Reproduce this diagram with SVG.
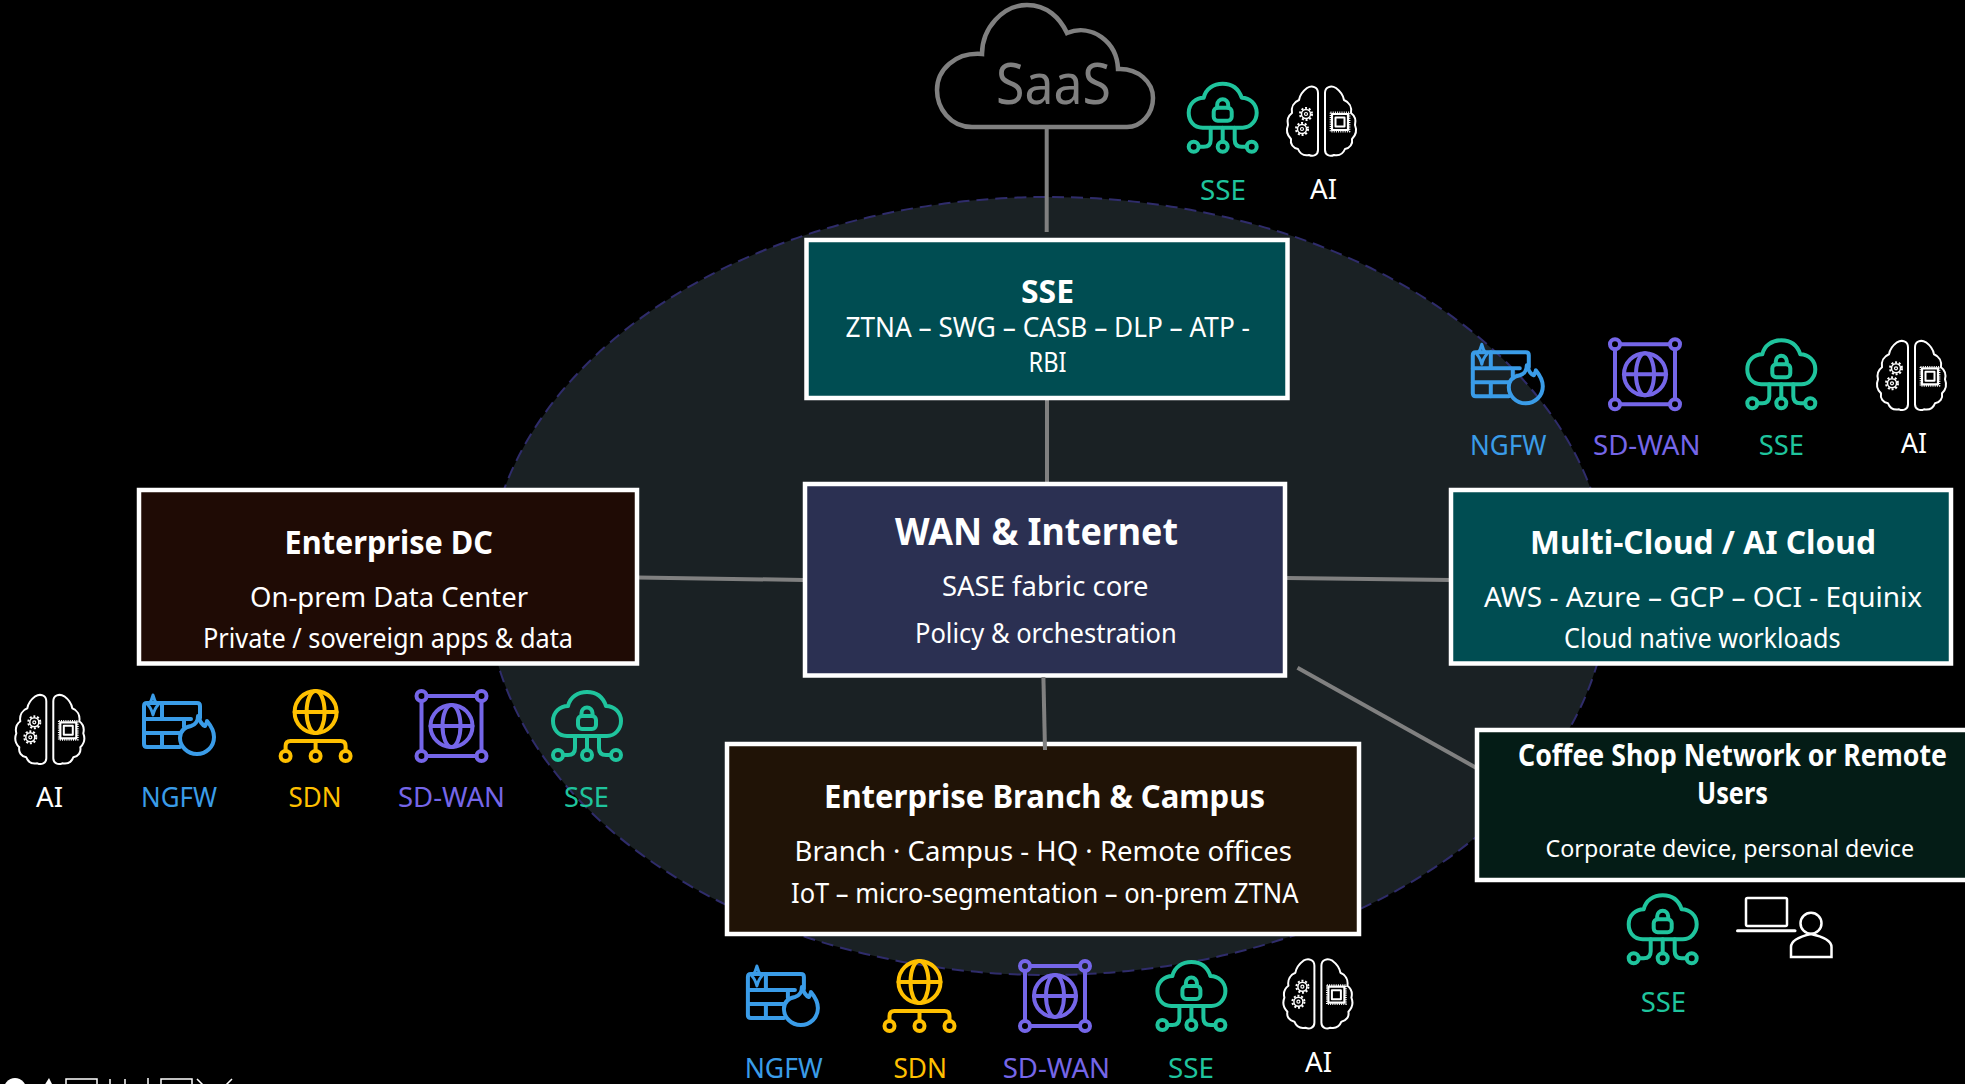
<svg xmlns="http://www.w3.org/2000/svg" width="1965" height="1084" viewBox="0 0 1965 1084">
<style>
text{font-family:"Noto Sans","Open Sans","Liberation Sans",sans-serif;fill:#fff}
.t{font-weight:700;font-size:33px}
.b{font-size:28px}
.box{stroke:#fff;stroke-width:4.5}
.conn{stroke:#808080;stroke-width:4;fill:none}
.lab{font-size:28px}
.g{fill:#1fc49d}.bl{fill:#3a9ce8}.p{fill:#7566e8}.y{fill:#ffc000}
.ic{fill:none;stroke-linecap:round;stroke-linejoin:round}
</style>
<defs>
<g id="sse" class="ic" stroke="#1fc49d" stroke-width="4">
<path d="M16 46C7 46 2 39 2 31C2 22 9 16 17 16C19 7 27 2 36 2C45 2 52 7 55 16C63 16 70 22 70 31C70 39 64 46 56 46Z"/>
<rect x="27" y="26" width="18" height="13" rx="4"/>
<path d="M30.500 26v-3a5.500 5.500 0 0 1 11 0v3"/>
<path d="M36 46V60M24 46V58Q24 65 17 65H12M48 46V58Q48 65 55 65H60"/>
<circle cx="7" cy="65" r="5"/><circle cx="36" cy="65" r="5"/><circle cx="65" cy="65" r="5"/>
</g>
<g id="sdwan" class="ic" stroke="#7566e8" stroke-width="4">
<path d="M11 6H61M11 66H61M6 11V61M66 11V61"/>
<circle cx="6" cy="6" r="5"/><circle cx="66" cy="6" r="5"/><circle cx="6" cy="66" r="5"/><circle cx="66" cy="66" r="5"/>
<circle cx="36" cy="36" r="21"/><ellipse cx="36" cy="36" rx="9" ry="21"/><path d="M15 36H57"/>
</g>
<g id="sdn" class="ic" stroke="#ffc000" stroke-width="4">
<circle cx="36" cy="22" r="21"/><ellipse cx="36" cy="22" rx="9" ry="21"/><path d="M15 22H57"/>
<path d="M6 61V56Q6 51 11 51H61Q66 51 66 56V61M36 51V61"/>
<circle cx="6" cy="66" r="5"/><circle cx="36" cy="66" r="5"/><circle cx="66" cy="66" r="5"/>
</g>
<g id="ngfw" class="ic" stroke="#3a9ce8" stroke-width="4">
<path d="M37 53H4Q1 53 1 50V12Q1 9 4 9H54Q57 9 57 12V24"/>
<path d="M1 25H48M1 39H37M19 39V53M19 9V25M41 25V33"/>
<path d="M10 1C11 6 13 9 15 11C13 13 11 17 10 21C9 17 7 13 5 11C7 9 9 6 10 1Z" stroke-width="3"/>
<path d="M55 22C57 28 59 31 62 32C63 30 64 29 64 27C69 33 71 38 71 43C71 53 63 60 54 60C44 60 37 52 37 44C37 36 43 33 48 32C52 31 55 27 55 22Z"/>
</g>
<g id="ai" class="ic" stroke="#fff" stroke-width="2">
<path d="M32 8V65C32 70 27 72 23 70C18 71 14 69 12 64C7 63 4 59 5 54C1 50 0 45 2 40C1 36 2 31 6 28C5 22 8 17 13 15C14 9 17 6 21 3C26 0 32 2 32 8Z"/>
<path d="M39 8V65C39 70 44 72 48 70C53 71 57 69 59 64C64 63 67 59 66 54C70 50 71 45 69 40C70 36 69 31 65 28C66 22 63 17 58 15C57 9 54 6 50 3C45 0 39 2 39 8Z"/>
<circle cx="20" cy="29" r="4.500" stroke-width="1.500"/><circle cx="20" cy="29" r="6" stroke-dasharray="2 1.800" stroke-linecap="butt" stroke-width="2"/><circle cx="20" cy="29" r="1.500" stroke-width="1.200"/>
<circle cx="16" cy="44" r="4.500" stroke-width="1.500"/><circle cx="16" cy="44" r="6" stroke-dasharray="2 1.800" stroke-linecap="butt" stroke-width="2"/><circle cx="16" cy="44" r="1.500" stroke-width="1.200"/>
<rect x="46" y="29" width="16" height="16" stroke-width="2.200"/><rect x="49.500" y="32.500" width="9" height="9" stroke-width="2"/>
<rect x="44.500" y="27.500" width="19" height="19" stroke-dasharray="1 1.200" stroke-linecap="butt" stroke-width="1.800"/>
</g>
</defs>
<rect id="background" width="1965" height="1084" fill="#000"/>
<ellipse id="fabric" cx="1047.500" cy="586" rx="561" ry="389" fill="#1a2124" stroke="#2f2c6b" stroke-width="2" stroke-dasharray="12 7"/>
<g id="logo-clipped" fill="none" stroke="#fff" stroke-width="1.500">
<ellipse cx="15" cy="1092" rx="12" ry="14" fill="#fff" stroke="none"/>
<path d="M44 1086L49 1078L53 1086Z" fill="#fff" stroke="none"/>
<path d="M66 1086V1079H97V1086M110 1086V1079M125 1086V1079M148 1078V1086M161 1086V1079H192V1086M197 1079L204 1086M232 1079L225 1086"/>
</g>
<g id="connectors">
<path class="conn" d="M1046.700 128V232"/>
<path class="conn" d="M1047 400V484"/>
<path class="conn" d="M638 577.500L804 580"/>
<path class="conn" d="M1287 578L1450 580"/>
<path class="conn" d="M1297.500 667.700L1476 767.700"/>
</g>
<g id="saas">
<path d="M972 127C950 127 937 108 937 90C937 70 955 52 982 54C982 28 1003 5 1027 5C1047 5 1060 18 1067 33C1092 23 1117 42 1118 69C1138 68 1153 82 1153 98C1153 114 1141 127 1127 127Z" fill="none" stroke="#808080" stroke-width="4.500"/>
<text x="996" y="104" font-size="56" textLength="115" lengthAdjust="spacingAndGlyphs" style="fill:#808080">SaaS</text>
</g>
<g id="node-sse-box">
<rect class="box" x="806.500" y="240" width="481" height="158" fill="#004d52"/>
<text class="t" x="1021" y="303.300" textLength="53" lengthAdjust="spacingAndGlyphs">SSE</text>
<text class="b" x="845.500" y="337.300" textLength="404.500" lengthAdjust="spacingAndGlyphs">ZTNA – SWG – CASB – DLP – ATP -</text>
<text class="b" x="1028.600" y="371.700" textLength="38" lengthAdjust="spacingAndGlyphs">RBI</text>
</g>
<g id="node-wan">
<rect class="box" x="805" y="484" width="480" height="191.500" fill="#2b3052"/>
<text x="895" y="545" font-size="38" font-weight="700" textLength="283" lengthAdjust="spacingAndGlyphs">WAN &amp; Internet</text>
<text class="b" x="942" y="595.700" textLength="206.500" lengthAdjust="spacingAndGlyphs">SASE fabric core</text>
<text class="b" x="915" y="643.300" textLength="261.700" lengthAdjust="spacingAndGlyphs">Policy &amp; orchestration</text>
</g>
<g id="node-dc">
<rect class="box" x="139" y="490" width="498" height="173.500" fill="#1f0b05"/>
<text class="t" x="284.600" y="554.300" textLength="208.400" lengthAdjust="spacingAndGlyphs">Enterprise DC</text>
<text class="b" x="250" y="606.700" textLength="278" lengthAdjust="spacingAndGlyphs">On-prem Data Center</text>
<text class="b" x="203" y="647.700" textLength="370" lengthAdjust="spacingAndGlyphs">Private / sovereign apps &amp; data</text>
</g>
<g id="node-multicloud">
<rect class="box" x="1451" y="490" width="500" height="173.500" fill="#004d52"/>
<text class="t" x="1530" y="554.300" textLength="346" lengthAdjust="spacingAndGlyphs">Multi-Cloud / AI Cloud</text>
<text class="b" x="1484" y="606.700" textLength="438" lengthAdjust="spacingAndGlyphs">AWS - Azure – GCP – OCI - Equinix</text>
<text class="b" x="1564" y="647.700" textLength="276.500" lengthAdjust="spacingAndGlyphs">Cloud native workloads</text>
</g>
<g id="node-coffee">
<rect class="box" x="1477" y="730" width="500" height="150" fill="#041c16"/>
<text x="1518" y="765.700" font-size="30" font-weight="700" textLength="429" lengthAdjust="spacingAndGlyphs">Coffee Shop Network or Remote</text>
<text x="1697" y="804" font-size="30" font-weight="700" textLength="71" lengthAdjust="spacingAndGlyphs">Users</text>
<text x="1545.600" y="856.700" font-size="24" textLength="368.400" lengthAdjust="spacingAndGlyphs">Corporate device, personal device</text>
</g>
<g id="node-branch">
<rect class="box" x="727" y="744" width="632" height="190" fill="#201306"/>
<text class="t" x="824" y="808.300" textLength="441" lengthAdjust="spacingAndGlyphs">Enterprise Branch &amp; Campus</text>
<text class="b" x="794.600" y="860.700" textLength="497.400" lengthAdjust="spacingAndGlyphs">Branch · Campus - HQ · Remote offices</text>
<text class="b" x="791" y="902.700" textLength="507.500" lengthAdjust="spacingAndGlyphs">IoT – micro-segmentation – on-prem ZTNA</text>
</g>
<g id="connectors-over">
<path class="conn" d="M1043.400 677L1045 750"/>
</g>
<g id="icons-saas">
<use href="#sse" x="1186.700" y="81.700"/><text class="lab g" x="1200" y="200" textLength="46" lengthAdjust="spacingAndGlyphs">SSE</text>
<use href="#ai" x="1286" y="85"/><text class="lab" x="1310" y="199" textLength="27" lengthAdjust="spacingAndGlyphs">AI</text>
</g>
<g id="icons-multicloud">
<use href="#ngfw" x="1471.800" y="343.300"/><text class="lab bl" x="1470" y="455.300" textLength="76.500" lengthAdjust="spacingAndGlyphs">NGFW</text>
<use href="#sdwan" x="1609" y="338.300"/><text class="lab p" x="1593" y="455.300" textLength="107.500" lengthAdjust="spacingAndGlyphs">SD-WAN</text>
<use href="#sse" x="1745.300" y="338.300"/><text class="lab g" x="1758.700" y="455.300" textLength="45.300" lengthAdjust="spacingAndGlyphs">SSE</text>
<use href="#ai" x="1876" y="339.300"/><text class="lab" x="1901" y="452.700" textLength="26" lengthAdjust="spacingAndGlyphs">AI</text>
</g>
<g id="icons-dc">
<use href="#ai" x="14.300" y="693.300"/><text class="lab" x="36" y="807" textLength="27" lengthAdjust="spacingAndGlyphs">AI</text>
<use href="#ngfw" x="143" y="694"/><text class="lab bl" x="141" y="807" textLength="76" lengthAdjust="spacingAndGlyphs">NGFW</text>
<use href="#sdn" x="279.600" y="690"/><text class="lab y" x="288.600" y="807" textLength="53" lengthAdjust="spacingAndGlyphs">SDN</text>
<use href="#sdwan" x="415.500" y="690"/><text class="lab p" x="398" y="807" textLength="107" lengthAdjust="spacingAndGlyphs">SD-WAN</text>
<use href="#sse" x="551" y="690"/><text class="lab g" x="564" y="807" textLength="45" lengthAdjust="spacingAndGlyphs">SSE</text>
</g>
<g id="icons-branch">
<use href="#ngfw" x="746.900" y="965"/><text class="lab bl" x="744.700" y="1078" textLength="78" lengthAdjust="spacingAndGlyphs">NGFW</text>
<use href="#sdn" x="883.500" y="960"/><text class="lab y" x="893.400" y="1078" textLength="53.600" lengthAdjust="spacingAndGlyphs">SDN</text>
<use href="#sdwan" x="1019" y="960"/><text class="lab p" x="1002.700" y="1078" textLength="107.300" lengthAdjust="spacingAndGlyphs">SD-WAN</text>
<use href="#sse" x="1155.400" y="960"/><text class="lab g" x="1168" y="1078" textLength="46" lengthAdjust="spacingAndGlyphs">SSE</text>
<use href="#ai" x="1282.400" y="957.700"/><text class="lab" x="1305" y="1072" textLength="27" lengthAdjust="spacingAndGlyphs">AI</text>
</g>
<g id="icons-coffee">
<use href="#sse" x="1626.700" y="893.300"/><text class="lab g" x="1640.700" y="1012" textLength="45.300" lengthAdjust="spacingAndGlyphs">SSE</text>
<g id="user-laptop" fill="none" stroke="#fff" stroke-width="2.500">
<rect x="1746" y="898" width="41" height="28" rx="1.500"/>
<path d="M1737.500 930.700H1795" stroke-width="3" stroke-linecap="round"/>
<circle cx="1811" cy="923.300" r="10.500"/>
<path d="M1791 957V947C1791 940 1802 936 1811 934C1820 936 1831.500 940 1831.500 947V957Z"/>
</g>
</g>
</svg>
